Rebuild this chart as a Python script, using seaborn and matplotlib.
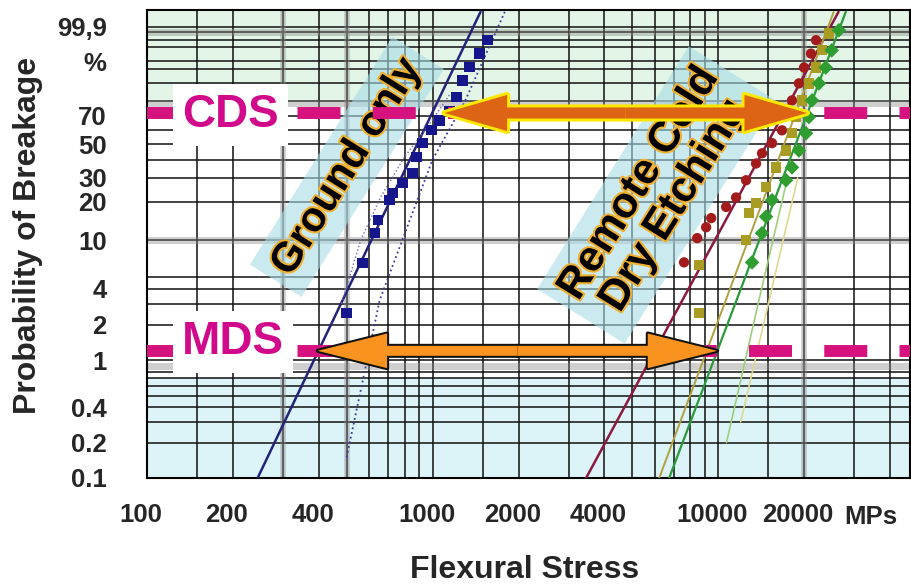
import numpy as np
import pandas as pd
import matplotlib
matplotlib.use('Agg')
import matplotlib.pyplot as plt
import matplotlib.patheffects as pe
import matplotlib.transforms as mtransforms
from matplotlib.patches import FancyArrowPatch
import seaborn as sns

# values: stress in MPa, probability of breakage in %
ground_stress = [500, 569, 627, 643, 707, 725, 785, 851, 879, 922, 992, 1058, 1146, 1213, 1273, 1346, 1459, 1556]
ground_prob = [2.5, 6.5, 11.4, 14.4, 20.6, 23.2, 27.5, 32.4, 41.5, 50.6, 59.8, 66.7, 73.6, 82.3, 91.0, 95.6, 98.3, 99.5]

red_stress = [7600, 8450, 9080, 9460, 10670, 11560, 12530, 13580, 14250, 15450, 16740, 17710, 18150, 19190, 20000, 21150, 22030]
red_prob = [6.6, 10.4, 12.7, 15.0, 18.3, 21.6, 28.9, 37.7, 43.9, 50.6, 59.6, 71.8, 80.4, 89.7, 95.5, 98.3, 99.5]

olive_stress = [8590, 8590, 12530, 12830, 13580, 14720, 15960, 17300, 18150, 18750, 19660, 20800, 22030, 23100, 24410]
olive_prob = [2.5, 6.3, 10.0, 16.4, 19.5, 25.8, 35.5, 45.7, 57.5, 69.1, 80.4, 89.7, 95.5, 98.7, 99.76]

green_stress = [13150, 14250, 14720, 15450, 17300, 18150, 19190, 20320, 20800, 21330, 22550, 23820, 25000, 26490]
green_prob = [6.6, 11.4, 15.4, 20.6, 28.9, 35.5, 45.7, 57.5, 69.1, 80.4, 89.7, 95.5, 98.7, 99.84]

# fitted lines and bounds (end / support points)
ground_fit_stress = [244, 1472]
ground_fit_prob = [0.1, 99.99]
ground_right_stress = [500, 653, 1000, 1300, 1790]
ground_right_prob = [0.15, 3.2, 40, 80, 99.99]
ground_left_stress = [480, 560, 660, 800, 960, 1150]
ground_left_prob = [3, 10, 22, 42, 62, 84]
red_fit_stress = [3450, 26400]
red_fit_prob = [0.1, 99.99]
olive_fit_stress = [6220, 25400]
olive_fit_prob = [0.1, 99.99]
green_fit_stress = [6740, 28000]
green_fit_prob = [0.1, 99.99]
lgreen_stress = [10700, 13900, 17500]
lgreen_prob = [0.2, 3.2, 30]
lyellow_stress = [12000, 15000, 19000]
lyellow_prob = [0.3, 3, 30]

CDS_LEVEL = 72
MDS_LEVEL = 1.2
cds_arrow = [1102, 20480]
mds_arrow = [396, 9930]

x_ticks = [100, 200, 400, 1000, 2000, 4000, 10000, 20000]
x_labels = ['100', '200', '400', '1000', '2000', '4000', '10000', '20000']
y_ticks = [0.1, 0.2, 0.4, 1, 2, 4, 10, 20, 30, 50, 70, 97, 99.9]
y_labels = ['0.1', '0.2', '0.4', '1', '2', '4', '10', '20', '30', '50', '70', '%', '99,9']

x_grid = [150, 300, 500, 600, 700, 800, 900, 1500, 3000, 5000, 6000, 7000, 8000, 9000, 15000, 30000, 40000]
y_grid = [0.3, 0.5, 0.6, 0.7, 0.8, 3, 5, 40, 60, 80, 90, 95, 99, 99.5, 99.8]

sns.set_style('white')
plt.rcParams['font.family'] = ['Liberation Sans', 'DejaVu Sans']
plt.rcParams['font.weight'] = 'bold'


def weib(p):
    p = np.clip(np.asarray(p, dtype=float), 1e-6, 100 - 1e-9)
    return np.log(-np.log(1 - p / 100))


def weib_inv(w):
    return 100 * (1 - np.exp(-np.exp(np.asarray(w, dtype=float))))


fig = plt.figure(figsize=(9.12, 5.87), dpi=100)
ax = fig.add_axes([147 / 912, 109 / 587, 763 / 912, 468 / 587])
ax.set_xscale('log')
ax.set_yscale('function', functions=(weib, weib_inv))
ax.set_xlim(100, 47000)
ax.set_ylim(0.1, 99.993)

# coloured paper bands
ax.axhspan(80, 99.993, color='#e2f5e6', zorder=0)
ax.axhspan(0.1, 0.7, color='#dcf3f7', zorder=0)

# grid
ax.set_xticks(x_ticks)
ax.set_xticklabels(x_labels)
ax.set_xticks(x_grid, minor=True)
ax.set_yticks(y_ticks)
ax.set_yticklabels(y_labels)
ax.set_yticks(y_grid, minor=True)
ax.xaxis.set_minor_formatter(matplotlib.ticker.NullFormatter())
ax.yaxis.set_minor_formatter(matplotlib.ticker.NullFormatter())
ax.grid(which='both', color='#111111', lw=1.3, alpha=0.85, zorder=0.5)
ax.set_axisbelow(True)
for v in [300, 500, 20000]:
    ax.axvline(v, color='#888888', lw=4, alpha=0.45, zorder=0.6)
for v in [99.8, 79, 10, 0.9]:
    ax.axhline(v, color='#888888', lw=5, alpha=0.4, zorder=0.6)
ax.tick_params(axis='both', which='both', length=0, labelsize=18.5)
ax.tick_params(axis='x', pad=18)
ax.tick_params(axis='y', pad=29)
shift = mtransforms.ScaledTranslation(-0.06, 0, fig.dpi_scale_trans)
for lab in ax.get_xticklabels():
    lab.set_transform(lab.get_transform() + shift)
for s in ax.spines.values():
    s.set_color('black')
    s.set_linewidth(1.5)

# rotated labels with light blue bands
halo = [pe.withStroke(linewidth=3, foreground='#f0b030')]
ax.text(0.262, 0.665, 'Ground only', transform=ax.transAxes, rotation=58,
        ha='center', va='center', fontsize=30, fontweight='bold', color='black',
        path_effects=halo, zorder=2.5,
        bbox=dict(boxstyle='square,pad=0.25', fc='#a9dce6', ec='none', alpha=0.6))
ax.text(0.668, 0.605, 'Remote Cold\nDry Etching', transform=ax.transAxes, rotation=58,
        ha='center', va='center', multialignment='center', fontsize=31,
        fontweight='bold', color='black', path_effects=halo, zorder=2.5, linespacing=1.05,
        bbox=dict(boxstyle='square,pad=0.25', fc='#a9dce6', ec='none', alpha=0.6))

# fitted lines
lines = [
    (ground_fit_stress, ground_fit_prob, '#23237a', 1.8, '-'),
    (ground_right_stress, ground_right_prob, '#3a3aa0', 1.3, ':'),
    (ground_left_stress, ground_left_prob, '#6a6ac0', 1.0, ':'),
    (red_fit_stress, red_fit_prob, '#8a1a40', 1.8, '-'),
    (olive_fit_stress, olive_fit_prob, '#b0a040', 1.4, '-'),
    (green_fit_stress, green_fit_prob, '#2a9a3a', 1.6, '-'),
    (lgreen_stress, lgreen_prob, '#9ad07a', 1.2, '-'),
    (lyellow_stress, lyellow_prob, '#e0d890', 1.2, '-'),
]
for xs, ys, c, lw, ls in lines:
    sns.lineplot(x=xs, y=ys, ax=ax, color=c, lw=lw, ls=ls, sort=False,
                 estimator=None, zorder=2.8)

# measured points
pts = pd.concat([
    pd.DataFrame({'stress': ground_stress, 'prob': ground_prob, 'set': 'ground'}),
    pd.DataFrame({'stress': red_stress, 'prob': red_prob, 'set': 'red'}),
    pd.DataFrame({'stress': olive_stress, 'prob': olive_prob, 'set': 'olive'}),
    pd.DataFrame({'stress': green_stress, 'prob': green_prob, 'set': 'green'}),
])
sns.scatterplot(data=pts, x='stress', y='prob', hue='set', style='set', ax=ax,
                palette={'ground': '#16168c', 'red': '#a31b1b', 'olive': '#a89c22', 'green': '#2f9d2f'},
                markers={'ground': 's', 'red': 'o', 'olive': 's', 'green': 'D'},
                s=55, linewidth=0, legend=False, zorder=3)

# CDS / MDS dashed levels
for lev in (CDS_LEVEL, MDS_LEVEL):
    ax.axhline(lev, color='#d6127f', lw=8.6, ls=(0, (3.6, 2.7)), zorder=4)


def double_arrow(x0, x1, y, face, edge, lw_edge, hl, hw, tw):
    xm = np.sqrt(x0 * x1)
    style = f'simple,head_length={hl},head_width={hw},tail_width={tw}'
    for z, fc, ec, lw in [(6, edge, edge, lw_edge), (7, face, 'none', 0)]:
        for xe in (x0, x1):
            ax.add_patch(FancyArrowPatch((xm, y), (xe, y), arrowstyle=style,
                                         mutation_scale=10, fc=fc, ec=ec, lw=lw,
                                         shrinkA=0, shrinkB=0, zorder=z))


double_arrow(cds_arrow[0], cds_arrow[1], CDS_LEVEL, '#dc6414', '#ffe800', 4.3, 4.5, 2.6, 0.8)
double_arrow(mds_arrow[0], mds_arrow[1], MDS_LEVEL, '#f7931e', '#111111', 2.9, 5.0, 2.5, 0.72)

# CDS / MDS boxes
ax.text(0.109, 0.775, 'CDS', transform=ax.transAxes, ha='center', va='center',
        fontsize=33, fontweight='bold', color='#d10a8c', zorder=8,
        bbox=dict(boxstyle='square,pad=0.2', fc='white', ec='none'))
ax.text(0.113, 0.29, 'MDS', transform=ax.transAxes, ha='center', va='center',
        fontsize=33, fontweight='bold', color='#d10a8c', zorder=8,
        bbox=dict(boxstyle='square,pad=0.2', fc='white', ec='none'))

ax.text(0.948, -0.083, 'MPs', transform=ax.transAxes, ha='center', va='center',
        fontsize=18.5, fontweight='bold')
ax.set_xlabel('')
ax.set_ylabel('')
fig.text(28 / 912, 1 - 235 / 587, 'Probability of Breakage', rotation=90,
         ha='center', va='center', fontsize=23, fontweight='bold')
fig.text(525 / 912, 1 - 570 / 587, 'Flexural Stress', ha='center', va='center',
         fontsize=23, fontweight='bold')

fig.savefig('out.png', dpi=100)
